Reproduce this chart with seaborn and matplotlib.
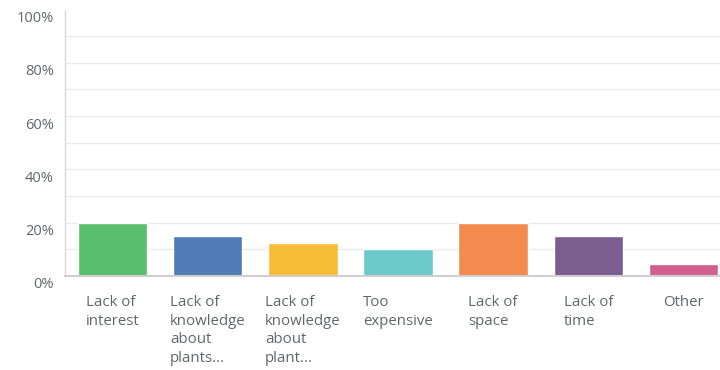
import matplotlib
matplotlib.use("Agg")
import matplotlib.pyplot as plt
import matplotlib.transforms as mtransforms
import seaborn as sns
import pandas as pd

# Survey responses: reasons for not growing plants
categories = [
    "Lack of\ninterest",
    "Lack of\nknowledge\nabout\nplants...",
    "Lack of\nknowledge\nabout\nplant...",
    "Too\nexpensive",
    "Lack of\nspace",
    "Lack of\ntime",
    "Other",
]
percentages = [20.0, 15.0, 12.5, 10.0, 20.0, 15.0, 4.5]
bar_colors = ["#59bf6f", "#507cb6", "#f8bc36", "#6cc9c9", "#f38b4f", "#7c5d8f", "#d2608f"]
y_ticks = [0, 20, 40, 60, 80, 100]
y_tick_labels = ["0%", "20%", "40%", "60%", "80%", "100%"]
grid_levels = [10, 20, 30, 40, 50, 60, 70, 80, 90]

sns.set_theme(style="white")
plt.rcParams["font.family"] = ["Open Sans", "DejaVu Sans"]

df = pd.DataFrame({"category": categories, "pct": percentages})

W, H = 720, 370
fig = plt.figure(figsize=(W / 100, H / 100), dpi=100)
left_px, right_px = 64.9, 731.0
base_px, top_px = 276.0, 9.5
ax = fig.add_axes([left_px / W, (H - base_px) / H,
                   (right_px - left_px) / W, (base_px - top_px) / H])

# light horizontal grid
for g in grid_levels:
    ax.axhline(g, color="#ebebeb", lw=1.0, zorder=0)

sns.barplot(data=df, x="category", y="pct", hue="category", palette=bar_colors,
            width=0.73, legend=False, ax=ax, saturation=1, zorder=2)

ax.set_xlim(-0.5, len(categories) - 0.5)
ax.set_ylim(0, 100)
ax.set_xlabel("")
ax.set_ylabel("")

for side in ["top", "right"]:
    ax.spines[side].set_visible(False)
ax.spines["left"].set_color("#d9d9d9")
ax.spines["left"].set_linewidth(1.0)
ax.spines["bottom"].set_color("#cfcfcf")
ax.spines["bottom"].set_linewidth(1.5)
ax.spines["bottom"].set_zorder(3)

text_color = "#62666c"

# y tick labels sit slightly below their gridlines
ax.set_yticks(y_ticks)
ax.set_yticklabels(y_tick_labels, fontsize=10.5, color=text_color)
ax.tick_params(axis="y", length=0, pad=8)
offset = mtransforms.ScaledTranslation(0, -7 / 100, fig.dpi_scale_trans)
for lbl in ax.get_yticklabels():
    lbl.set_transform(lbl.get_transform() + offset)

# x labels: text block centred under each bar, lines left aligned
ax.set_xticks(range(len(categories)))
ax.set_xticklabels([])
ax.tick_params(axis="x", length=0)
xt = mtransforms.blended_transform_factory(ax.transData, fig.transFigure)
for i, cat in enumerate(categories):
    ax.text(i, (H - 295) / H, cat, transform=xt,
            ha="center", va="top", multialignment="left",
            fontsize=10.8, color=text_color,
            linespacing=1.33, clip_on=False)

fig.savefig("out.png", dpi=100, facecolor="white")
